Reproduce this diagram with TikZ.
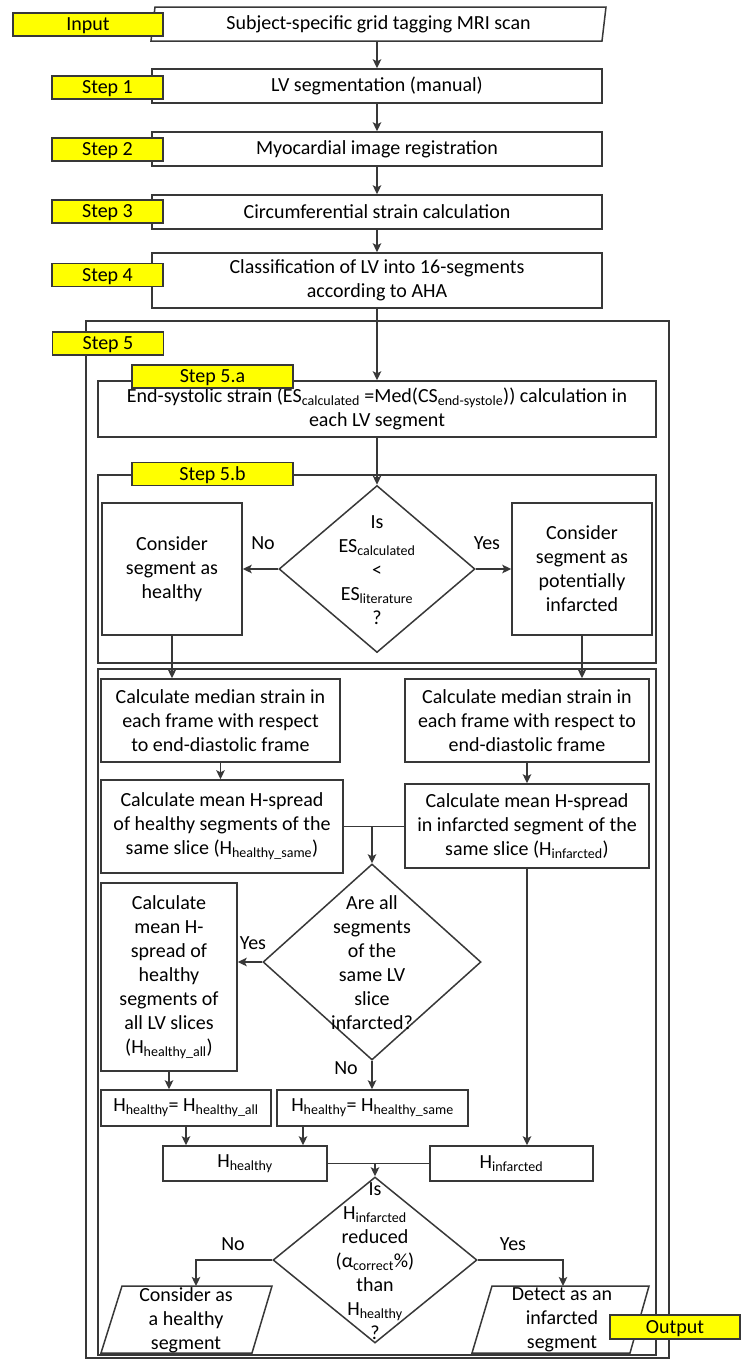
\documentclass[tikz,border=0pt]{standalone}
\usepackage{fontspec}
\setmainfont{Carlito}
\usetikzlibrary{shapes.geometric,arrows.meta}
\definecolor{lin}{HTML}{383838}
\definecolor{tagfill}{HTML}{FFFF00}
\begin{document}
\begin{tikzpicture}[x=1pt,y=-1pt,
  every node/.style={font=\fontsize{20}{24}\selectfont, text=black},
  box/.style={draw=lin, line width=1.5pt, fill=white, rectangle, inner sep=0pt, align=center},
  frame/.style={draw=lin, line width=1.5pt, rectangle, inner sep=0pt},
  tagbox/.style={draw=lin, line width=1.5pt, fill=tagfill, rectangle, inner sep=0pt, align=center, text height=15pt, text depth=3pt},
  dec/.style={draw=lin, line width=1.5pt, diamond, inner sep=0pt, fill=white},
  io/.style={draw=lin, line width=1.5pt, trapezium, trapezium stretches body, inner sep=0pt, fill=white},
  iopath/.style={draw=lin, line width=1.5pt, fill=white, line join=miter},
  arr/.style={draw=lin, line width=1.5pt, -{Stealth[length=9pt,width=8.5pt,inset=2pt]}},
  ln/.style={draw=lin, line width=1.5pt},
  txt/.style={inner sep=0pt, align=center},
  lbl/.style={inner sep=0pt}
]
\path[use as bounding box, fill=white] (0,0) rectangle (743,1360);

% containers of step 5
\node[frame, minimum width=583, minimum height=1037] (f5) at (377.5,839.5) {};
\node[frame, minimum width=558, minimum height=188] (f5b) at (377,569) {};
\node[frame, minimum width=558, minimum height=686] (fc) at (377,1012) {};

% main chain
\node[io, trapezium left angle=77, trapezium right angle=103, minimum width=455, minimum height=34] (inp) at (378.5,24) {Subject-specific grid tagging MRI scan};
\node[box, minimum width=450, minimum height=34] (s1) at (377,86) {LV segmentation (manual)};
\node[box, minimum width=450, minimum height=34] (s2) at (377,149) {Myocardial image registration};
\node[box, minimum width=450, minimum height=34] (s3) at (377,212) {Circumferential strain calculation};
\node[box, minimum width=450, minimum height=55] (s4) at (377,280.5) {Classification of LV into 16-segments\\according to AHA};
\node[box, minimum width=558, minimum height=56] (s5a) at (377,409) {End-systolic strain (ES\textsubscript{calculated} =Med(CS\textsubscript{end-systole})) calculation in\\each LV segment};

% step 5.b
\node[dec, minimum width=196, minimum height=167] (d1) at (377,569) {};
\node[txt] (d1t) at (377,570) {Is\\ES\textsubscript{calculated}\\<\\ES\textsubscript{literature}\\?};
\node[box, minimum width=140, minimum height=132] (hl) at (172,569) {Consider\\segment as\\healthy};
\node[box, minimum width=140, minimum height=132] (pi) at (582,569) {Consider\\segment as\\potentially\\infarcted};

% H-spread part
\node[box, minimum width=239, minimum height=83] (ml) at (220.5,720.5) {Calculate median strain in\\each frame with respect\\to end-diastolic frame};
\node[box, minimum width=244, minimum height=83] (mr) at (527,720.5) {Calculate median strain in\\each frame with respect to\\end-diastolic frame};
\node[box, minimum width=242, minimum height=93] (sl) at (222,826.5) {Calculate mean H-spread\\of healthy segments of the\\same slice (H\textsubscript{healthy\_same})};
\node[box, minimum width=244, minimum height=84] (sr) at (527,826) {Calculate mean H-spread\\in infarcted segment of the\\same slice (H\textsubscript{infarcted})};

\node[dec, minimum width=218, minimum height=196] (d2) at (372,962) {};
\node[txt] (d2t) at (372,963) {Are all\\segments\\of the\\same LV\\slice\\infarcted?};
\node[box, minimum width=136, minimum height=188] (ha) at (169,977) {Calculate\\mean H-\\spread of\\healthy\\segments of\\all LV slices\\(H\textsubscript{healthy\_all})};

\node[box, minimum width=170, minimum height=36] (hha) at (186,1108) {H\textsubscript{healthy}= H\textsubscript{healthy\_all}};
\node[box, minimum width=191, minimum height=36] (hhs) at (372.5,1108) {H\textsubscript{healthy}= H\textsubscript{healthy\_same}};
\node[box, minimum width=164, minimum height=35] (hh) at (245,1163.5) {H\textsubscript{healthy}};
\node[box, minimum width=163, minimum height=35] (hi) at (511.5,1163.5) {H\textsubscript{infarcted}};

\node[dec, minimum width=204, minimum height=166] (d3) at (375,1260) {};
\node[txt] (d3t) at (375,1261) {Is\\H\textsubscript{infarcted}\\reduced\\(α\textsubscript{correct}\%)\\than\\H\textsubscript{healthy}\\?};

% result parallelograms
\path[iopath] (122,1286) -- (272,1286) -- (252,1353) -- (101,1353) -- cycle;
\coordinate (ohtop) at (196,1286);
\node[txt] (oht) at (186,1320) {Consider as\\a healthy\\segment};
\path[iopath] (492,1286) -- (649,1286) -- (630,1353) -- (472,1353) -- cycle;
\coordinate (oitop) at (563,1286);
\node[txt] (oit) at (562,1320) {Detect as an\\infarcted\\segment};

% connectors
\draw[arr] (inp.south -| s1.north) -- (s1.north);
\draw[arr] (s1.south) -- (s2.north);
\draw[arr] (s2.south) -- (s3.north);
\draw[arr] (s3.south) -- (s4.north);
\draw[arr] (s4.south) -- (s5a.north);
\draw[arr] (s5a.south) -- (d1.north);
\draw[arr] (d1.west) -- (hl.east);
\draw[arr] (d1.east) -- (pi.west);
\draw[arr] (hl.south) -- (hl.south |- ml.north);
\draw[arr] (pi.south) -- (pi.south |- mr.north);
\draw[arr] (ml.south) -- (ml.south |- sl.north);
\draw[arr] (mr.south) -- (sr.north);
\draw[ln] (sl.east) -- (sl.east -| sr.west);
\coordinate (j1) at (sl.east -| d2.north);
\draw[arr] (j1) -- (d2.north);
\draw[arr] (sr.south) -- (sr.south |- hi.north);
\draw[arr] (d2.west) -- (d2.west -| ha.east);
\draw[arr] (d2.south) -- (d2.south |- hhs.north);
\draw[arr] (ha.south) -- (ha.south |- hha.north);
\draw[arr] (hha.south) -- (hha.south |- hh.north);
\draw[arr] ([xshift=-69.5pt]hhs.south) -- ([xshift=-69.5pt]hhs.south |- hh.north);
\draw[ln] (hh.east) -- (hi.west);
\coordinate (j2) at (hh.east -| d3.north);
\draw[arr] (j2) -- (d3.north);
\draw[arr] (d3.west) -| (ohtop);
\draw[arr] (d3.east) -| (oitop);

% branch labels
\node[lbl] (n1) at (263,543) {No};
\node[lbl] (y1) at (487,543) {Yes};
\node[lbl] (y2) at (253,943) {Yes};
\node[lbl] (n2) at (346,1068) {No};
\node[lbl] (n3) at (233,1244) {No};
\node[lbl] (y3) at (513,1244) {Yes};

% step tags
\node[tagbox, minimum width=150, minimum height=23] (tin) at (88,24.5) {Input};
\node[tagbox, minimum width=111, minimum height=23] (t1) at (107.5,87.5) {Step 1};
\node[tagbox, minimum width=111, minimum height=23] (t2) at (107.5,149.5) {Step 2};
\node[tagbox, minimum width=111, minimum height=23] (t3) at (107.5,211.5) {Step 3};
\node[tagbox, minimum width=111, minimum height=23] (t4) at (107.5,275) {Step 4};
\node[tagbox, minimum width=111, minimum height=23] (t5) at (108,343.5) {Step 5};
\node[tagbox, minimum width=161, minimum height=23] (t5a) at (212.5,376.5) {Step 5.a};
\node[tagbox, minimum width=161, minimum height=23] (t5b) at (212.5,474) {Step 5.b};
\node[tagbox, minimum width=130, minimum height=24] (tout) at (675,1327) {Output};
\end{tikzpicture}
\end{document}
